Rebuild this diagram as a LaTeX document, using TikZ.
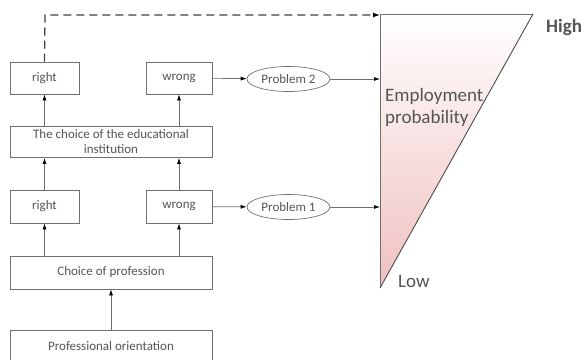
\documentclass[tikz,border=0pt]{standalone}
\usepackage{fontspec}
\setmainfont{Carlito}
\usetikzlibrary{shapes.geometric,arrows.meta}
\definecolor{lineg}{HTML}{707070}
\definecolor{textg}{HTML}{555555}
\definecolor{pinkb}{HTML}{F0C0C0}
\tikzset{
  box/.style={draw=lineg,line width=0.8pt,inner sep=0pt,align=center,font=\fontsize{13}{15}\selectfont,text=textg},
  oval/.style={draw=lineg,line width=0.7pt,ellipse,inner sep=0pt,minimum width=83pt,minimum height=25pt,font=\fontsize{13}{15}\selectfont,text=textg},
  conn/.style={draw=lineg,line width=0.7pt,-{Latex[length=6pt,width=4pt,color=black]}},
  dconn/.style={draw=black!75,line width=1.3pt,dash pattern=on 8pt off 5pt,-{Latex[length=7pt,width=5pt,color=black]}},
  lbl/.style={font=\fontsize{19}{22}\selectfont,text=textg,inner sep=0pt,anchor=west}
}
\begin{document}
\begin{tikzpicture}[x=1pt,y=-1pt]
\useasboundingbox (0,0) rectangle (588,359);
\clip (0,0) rectangle (588,359);
% triangle
\coordinate (ta) at (380,14);
\coordinate (tb) at (533,14);
\coordinate (tc) at (380,288);
\shade[top color=white,bottom color=pinkb] (ta) -- (tb) -- (tc) -- cycle;
\draw[lineg,line width=0.9pt] (tc) -- (ta) -- (tb);
\draw[black!70,line width=0.9pt] (tb) -- (tc);
% boxes
\node[box,minimum width=69pt,minimum height=32pt] (r2) at (44.5,78) {right};
\node[box,minimum width=66pt,minimum height=32pt] (w2) at (179,78) {wrong};
\node[box,minimum width=202pt,minimum height=31pt] (inst) at (111,142) {The choice of the educational\\institution};
\node[box,minimum width=69pt,minimum height=33pt] (r1) at (44.5,206.5) {right};
\node[box,minimum width=66pt,minimum height=33pt] (w1) at (179,206.5) {wrong};
\node[box,minimum width=202pt,minimum height=33pt] (prof) at (111,272.5) {Choice of profession};
\node[box,minimum width=202pt,minimum height=32pt] (orient) at (111,346) {Professional orientation};
\node[oval] (p2) at (288.5,79) {Problem 2};
\node[oval] (p1) at (288.5,207) {Problem 1};
% labels
\node[lbl] (emp1) at (385,96) {Employment};
\node[lbl] (emp2) at (385,118) {probability};
\node[lbl,font=\bfseries\fontsize{19}{22}\selectfont] (high) at (546,27) {High};
\node[lbl] (low) at (398,281) {Low};
% connectors
\coordinate (t2) at (380,79);
\coordinate (t1) at (380,207);
\coordinate (tt) at (380,15);
\coordinate (dc) at (45,15);
\draw[conn] (w2) -- (p2);
\draw[conn] (p2) -- (t2);
\draw[conn] (w1) -- (p1);
\draw[conn] (p1) -- (t1);
\draw[conn] (inst.north -| r2) -- (r2.south);
\draw[conn] (inst.north -| w2) -- (w2.south);
\draw[conn] (r1.north) -- (inst.south -| r1);
\draw[conn] (w1.north) -- (inst.south -| w1);
\draw[conn] (prof.north -| r1) -- (r1.south);
\draw[conn] (prof.north -| w1) -- (w1.south);
\draw[conn] (orient.north) -- (prof.south);
\draw[dconn] (r2.north) -- (dc) -- (tt);
\end{tikzpicture}
\end{document}
